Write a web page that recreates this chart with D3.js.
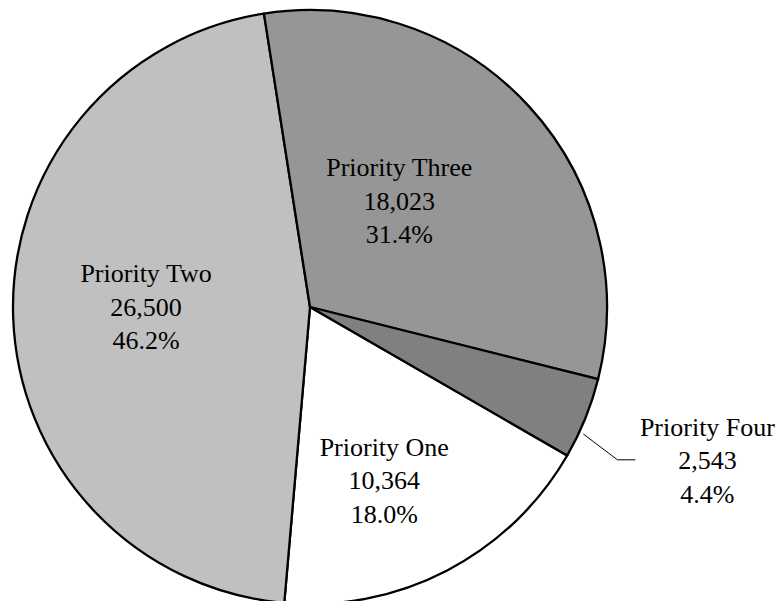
<!DOCTYPE html>
<html>
<head>
<meta charset="utf-8">
<script src="https://cdn.jsdelivr.net/npm/d3@7"></script>
<style>
  html, body { margin: 0; padding: 0; background: #ffffff; }
  svg { display: block; }
  .lbl { font-family: "Liberation Serif", "Times New Roman", Times, "DejaVu Serif", serif; }
</style>
</head>
<body>
<svg id="chart" width="781" height="601"></svg>
<script>
// ---- data ----
const categories = ["Priority One", "Priority Two", "Priority Three", "Priority Four"];
const values = [10364, 26500, 18023, 2543];
const valueLabels = ["10,364", "26,500", "18,023", "2,543"];
const percentLabels = ["18.0%", "46.2%", "31.4%", "4.4%"];
const colors = ["#ffffff", "#c0c0c0", "#969696", "#808080"];

// ---- layout ----
const W = 781, H = 601;
const cx = 310, cy = 307, R = 297;
const fontSize = 26, lineGap = 33.5;
// label placement: angle shift (deg) from slice mid-angle, and distance as fraction of radius
const labelLayout = [
  { shift: 4.4, frac: 0.637, outside: false },
  { shift: 1.85, frac: 0.552, outside: false },
  { shift: -7.4, frac: 0.466, outside: false },
  { shift: 2.9, frac: 1.015, outside: true }
];

const svg = d3.select("#chart");
svg.append("rect").attr("width", W).attr("height", H).attr("fill", "#ffffff");

const data = categories.map((c, i) => ({ cat: c, value: values[i], i }));
const pie = d3.pie().value(d => d.value).sort(null).startAngle(Math.PI * 2 / 3).endAngle(Math.PI * 2 / 3 + Math.PI * 2);
const arcs = pie(data);
const arc = d3.arc().innerRadius(0).outerRadius(R);

const g = svg.append("g").attr("transform", `translate(${cx},${cy})`);

g.selectAll("path.slice")
  .data(arcs)
  .join("path")
  .attr("class", "slice")
  .attr("d", arc)
  .attr("fill", d => colors[d.data.i])
  .attr("stroke", "#000")
  .attr("stroke-width", 2.3)
  .attr("stroke-linejoin", "round");

function polar(angle, r) {
  return [r * Math.sin(angle), -r * Math.cos(angle)];
}

arcs.forEach(d => {
  const i = d.data.i;
  const L = labelLayout[i];
  const mid = (d.startAngle + d.endAngle) / 2 + L.shift * Math.PI / 180;
  let lx, ly;
  if (!L.outside) {
    [lx, ly] = polar(mid, R * L.frac);
  } else {
    const p0 = polar(mid, R * L.frac);
    const p1 = polar(mid + 1.5 * Math.PI / 180, R * 1.156);
    const p2 = [p1[0] + 18, p1[1]];
    g.append("polyline")
      .attr("points", [p0, p1, p2].map(p => p.join(",")).join(" "))
      .attr("fill", "none")
      .attr("stroke", "#000")
      .attr("stroke-width", 1);
    lx = p2[0] + 72;
    ly = p2[1] + 1;
  }
  const lines = [categories[i], valueLabels[i], percentLabels[i]];
  const t = g.append("text")
    .attr("class", "lbl")
    .attr("text-anchor", "middle")
    .style("font-family", '"Liberation Serif", "Times New Roman", Times, "DejaVu Serif", serif')
    .style("font-size", fontSize + "px")
    .attr("fill", "#000");
  lines.forEach((s, k) => {
    t.append("tspan")
      .attr("x", lx)
      .attr("y", ly + (k - 1) * lineGap)
      .attr("dominant-baseline", "central")
      .text(s);
  });
});
</script>
</body>
</html>
